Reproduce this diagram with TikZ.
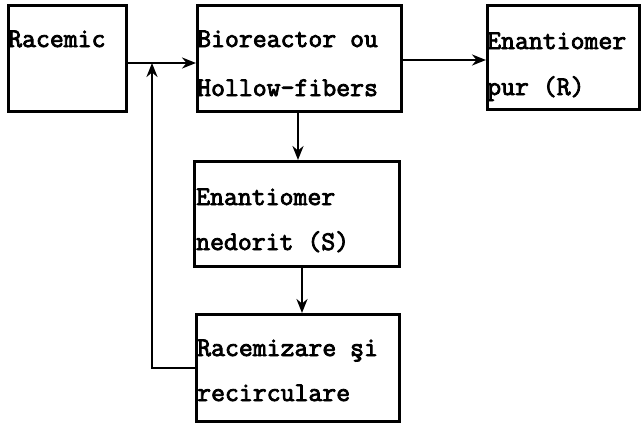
\documentclass[tikz,border=0pt]{standalone}
\usepackage{fontspec}
\newfontfamily\twfont{Latin Modern Mono}[FakeBold=3]
\usetikzlibrary{arrows.meta}
\begin{document}
\begin{tikzpicture}[x=1pt,y=-1pt,
  box/.style={draw,line width=2.6pt,inner sep=0pt,anchor=north west},
  txt/.style={font=\twfont\fontsize{27}{48}\selectfont,anchor=base west,inner sep=0pt},
  conn/.style={line width=2.2pt},
  arr/.style={conn,-{Stealth[length=14pt,width=11pt]}}]
\useasboundingbox (0,0) rectangle (641,423);
\node[box,minimum width=118pt,minimum height=106pt] (rac) at (7,4) {};
\node[box,minimum width=204pt,minimum height=106pt] (bio) at (196,4) {};
\node[box,minimum width=152pt,minimum height=104pt] (pur) at (486,4) {};
\node[box,minimum width=205pt,minimum height=105pt] (ned) at (193,160) {};
\node[box,minimum width=203pt,minimum height=107pt] (rcz) at (195,313) {};
\node[txt] (t1) at ([xshift=1pt,yshift=-43pt]rac.north west) {Racemic};
\node[txt] (t2) at ([xshift=1pt,yshift=-43pt]bio.north west) {Bioreactor ou};
\node[txt] (t3) at ([xshift=1pt,yshift=-92pt]bio.north west) {Hollow-fibers};
\node[txt] (t4) at ([xshift=1pt,yshift=-45pt]pur.north west) {Enantiomer};
\node[txt] (t5) at ([xshift=1pt,yshift=-91pt]pur.north west) {pur (R)};
\node[txt] (t6) at ([xshift=3pt,yshift=-45pt]ned.north west) {Enantiomer};
\node[txt] (t7) at ([xshift=3pt,yshift=-90pt]ned.north west) {nedorit (S)};
\node[txt] (t8) at ([xshift=2pt,yshift=-43pt]rcz.north west) {Racemizare şi};
\node[txt] (t9) at ([xshift=2pt,yshift=-88pt]rcz.north west) {recirculare};
\coordinate (j) at (152,63);
\coordinate (lb) at (152,368);
\draw[arr] (rac.east |- j) -- (bio.west |- j);
\draw[arr] (bio.east |- 0,60) -- (pur.west |- 0,60);
\draw[arr] (298,110) -- (ned.north -| 298,0);
\draw[arr] (ned.south -| 302,0) -- (rcz.north -| 302,0);
\draw[arr] (rcz.west |- lb) -- (lb) -- (j);
\end{tikzpicture}
\end{document}
